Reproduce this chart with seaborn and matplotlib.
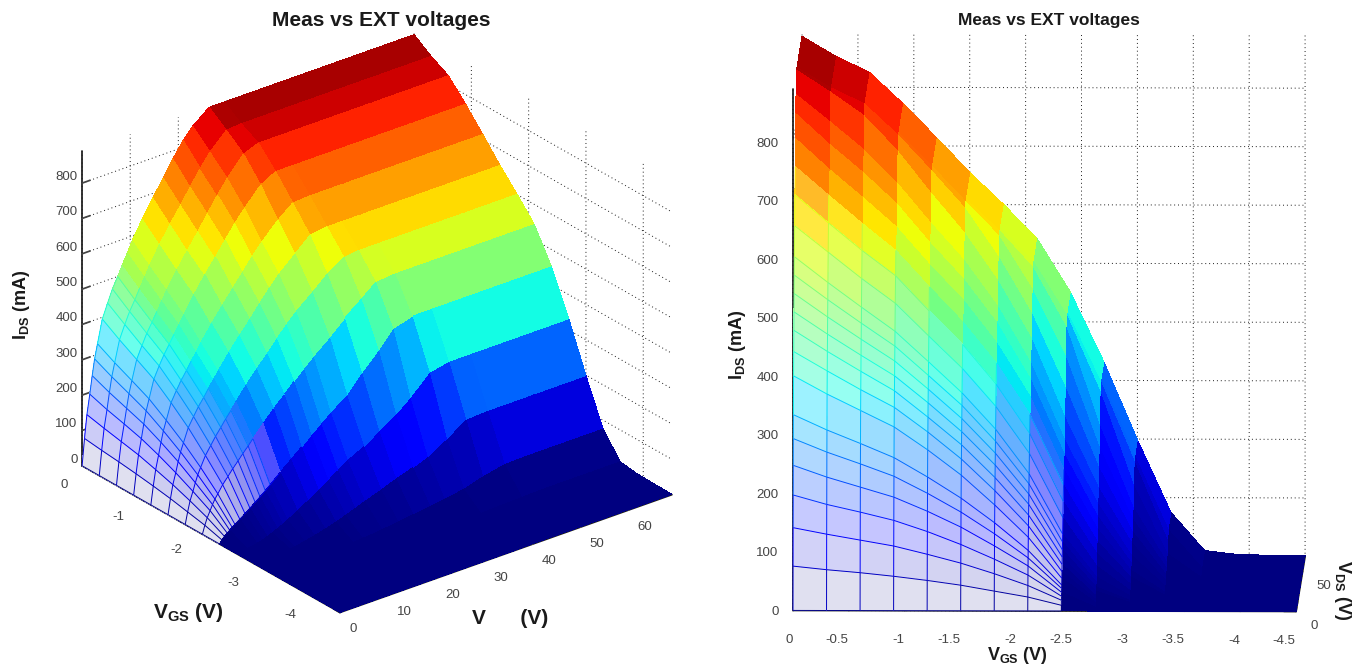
import numpy as np
import matplotlib
matplotlib.use("Agg")
import matplotlib.pyplot as plt
import seaborn as sns
from mpl_toolkits.mplot3d.art3d import Line3DCollection

# ---- data ----
vgs_levels = [0, -0.3, -0.6, -0.9, -1.2, -1.5, -1.8, -2.1, -2.4, -2.7, -3.0, -3.3, -3.6, -3.9, -4.2, -4.5]
vds_levels = [0, .5, 1, 1.6, 2.1, 2.6, 3.2, 4.2, 5.3, 6.3, 7.4, 8.4, 9.5, 10.5, 12.6, 14.8, 17, 19, 21, 23, 26.4, 29.5, 33, 36, 40, 44, 48.5, 53, 58, 63, 69]
ids_00 = [0,75,140,195,245,290,330,395,435,470,500,530,560,590,640,690,735,780,820,850,887,887,887,887,887,887,887,887,887,887,887]
ids_03 = [0,69,129,179,225,267,304,364,402,434,462,490,518,546,595,642,686,728,768,804,850,853,853,853,853,853,853,853,853,853,853]
ids_06 = [0,64,119,166,208,247,281,336,370,400,426,452,478,504,550,595,638,680,720,757,810,826,826,826,826,826,826,826,826,826,826]
ids_09 = [0,58,109,152,191,226,257,308,340,367,391,415,439,463,508,552,592,630,667,700,750,773,773,773,773,773,773,773,773,773,773]
ids_12 = [0,51,95,133,167,197,224,269,298,322,345,367,389,411,452,492,530,565,600,632,678,712,715,715,715,715,715,715,715,715,715]
ids_15 = [0,43,80,111,140,165,188,226,252,275,296,317,338,358,397,435,470,505,538,568,610,648,655,655,655,655,655,655,655,655,655]
ids_18 = [0,33,62,86,108,128,146,175,198,219,239,258,277,296,332,367,400,432,463,490,528,565,596,601,601,601,601,601,601,601,601]
ids_21 = [0,23,42,59,74,87,99,120,138,155,172,188,204,220,252,283,312,340,367,392,430,468,505,538,543,543,543,543,543,543,543]
ids_24 = [0,9,17,23,29,35,40,50,60,71,82,93,105,117,142,167,192,216,240,262,295,342,389,436,451,451,451,451,451,451,451]
ids_27 = [0,1,2,3,4,5,6,9,13,18,24,30,37,44,60,78,96,115,133,152,175,205,235,268,320,332,332,332,332,332,332]
ids_30 = [0,0,0,0,0,0,0,1,2,3,5,7,9,12,18,26,35,44,54,64,80,96,112,128,160,196,199,199,199,199,199]
ids_33 = [0,0,0,0,0,0,0,0,0,0,0,0,0,1,2,3,5,7,9,12,17,23,29,35,44,60,73,75,75,75,75]
ids_36 = [0,0,0,0,0,0,0,0,0,0,0,0,0,0,0,0,0,0,0,0,1,2,2,3,4,6,8,10,10,10,10]
ids_39 = [0,0,0,0,0,0,0,0,0,0,0,0,0,0,0,0,0,0,0,0,0,0,0,0,1,1,2,3,3,3,3]
ids_42 = [0,0,0,0,0,0,0,0,0,0,0,0,0,0,0,0,0,0,0,0,0,0,0,0,1,1,1,2,2,2,2]
ids_45 = [0,0,0,0,0,0,0,0,0,0,0,0,0,0,0,0,0,0,0,0,0,0,0,0,1,1,1,1,1,1,1]
ids_rows = [ids_00, ids_03, ids_06, ids_09, ids_12, ids_15, ids_18, ids_21,
            ids_24, ids_27, ids_30, ids_33, ids_36, ids_39, ids_42, ids_45]
z_ticks = [0, 100, 200, 300, 400, 500, 600, 700, 800]
vds_ticks_left = [0, 10, 20, 30, 40, 50, 60]
vgs_ticks_left = [0, -1, -2, -3, -4]
vds_ticks_right = [0, 50]
vgs_ticks_right = [0, -0.5, -1, -1.5, -2, -2.5, -3, -3.5, -4, -4.5]
vgs_tick_labels_right = ['0', '-0.5', '-1', '-1.5', '-2', '-2.5', '-3', '-3.5', '-4', '-4.5']
title_text = "Meas vs EXT voltages"

# ---- style ----
sns.set_theme(style="white")
plt.rcParams['font.family'] = ['Liberation Sans', 'DejaVu Sans']
plt.rcParams['mathtext.fontset'] = 'custom'
plt.rcParams['mathtext.bf'] = 'Liberation Sans:bold'
plt.rcParams['mathtext.rm'] = 'Liberation Sans'
jet = matplotlib.colormaps['jet']

W, H = 1362, 671
fig = plt.figure(figsize=(W / 100, H / 100), dpi=100, facecolor='white')

vds = np.array(vds_levels, float)
vgs = np.array(vgs_levels, float)[::-1]
ids = np.array(ids_rows, float)[::-1]
X, Y = np.meshgrid(vds, vgs)
ZMAX = ids.max()
# how far up the steep wall the mesh reads as open lines, per VGS level (0 V first)
open_wall = np.array([700, 680, 620, 560, 500, 430, 370, 300, 200, 0, 0, 0, 0, 0, 0, 0], float)[::-1]


def panel(rect_px, elev, azim, box, open_scale, xticks, yticks, ylabels, y_tick_factor):
    side = rect_px[2]
    ax = fig.add_axes([rect_px[0] / W, (H - rect_px[1]) / H, side / W, side / H],
                      projection='3d', computed_zorder=False)
    ax.patch.set_alpha(0)
    ax.set_proj_type('ortho')
    ax.view_init(elev=elev, azim=azim)
    ax.set_box_aspect(box)
    ax.set_xlim(0, 69)
    ax.set_ylim(-4.5, 0)
    ax.set_zlim(0, 890)

    rgb = jet(ids / ZMAX)
    zref = np.maximum(open_wall[:, None] * open_scale, 1e-6)
    w = 0.88 * np.clip(1 - ids / zref, 0, 1) ** 0.6
    w[open_wall == 0, :] = 0
    w[:, vds > 26] = 0
    col = rgb.copy()
    col[..., :3] = rgb[..., :3] * (1 - w[..., None]) + w[..., None]
    ax.plot_surface(X, Y, ids, facecolors=col, rstride=1, cstride=1, shade=False,
                    linewidth=0, antialiased=False, zorder=1)

    segs, cols = [], []
    nr, nc = ids.shape
    for r in range(nr):
        for c in range(nc):
            if w[r, c] <= 0:
                continue
            if r + 1 < nr:
                segs.append([(vds[c], vgs[r], ids[r, c]), (vds[c], vgs[r + 1], ids[r + 1, c])])
                cols.append(jet(ids[r + 1, c] / ZMAX * 0.8))
            if c + 1 < nc:
                segs.append([(vds[c], vgs[r], ids[r, c]), (vds[c + 1], vgs[r], ids[r, c + 1])])
                cols.append(jet(ids[r, c + 1] / ZMAX * 0.8))
    ax.add_collection3d(Line3DCollection(segs, colors=cols, linewidths=0.7, zorder=2))

    ax.set_xticks(xticks)
    ax.set_yticks(yticks)
    ax.set_yticklabels(ylabels)
    ax.set_zticks(z_ticks)
    ax.tick_params(labelsize=9.5, colors='#444444', pad=1)
    for axis in (ax.xaxis, ax.yaxis, ax.zaxis):
        axis.set_pane_color((1, 1, 1, 0))
        axis.pane.set_edgecolor('none')
        axis._axinfo['grid'].update(color='k', linewidth=0.7, linestyle=(0, (1, 3)))
        axis._axinfo['axisline']['linewidth'] = 0.9
        axis._axinfo['axisline']['color'] = 'k'
        axis._axinfo['tick']['outward_factor'] = 0.3
        axis._axinfo['tick']['inward_factor'] = 0.0
        axis.line.set_color('k')
    ax.yaxis._axinfo['tick']['outward_factor'] = y_tick_factor
    return ax


ax_l = panel((33.1, 666.9, 669.7), 26.7, -128.3, (423, 416, 352), 0.7,
             vds_ticks_left, vgs_ticks_left, [str(v) for v in vgs_ticks_left], 0.3)
ax_r = panel((608.5, 763.5, 857.9), 6.27, -178.97, (503, 503, 524), 1.0,
             vds_ticks_right, vgs_ticks_right, vgs_tick_labels_right, 3.0)

# tick label placement
ax_l.zaxis.set_tick_params(pad=-6)
for t in ax_l.get_zticklabels():
    t.set_ha('right'); t.set_va('bottom')
ax_l.yaxis.set_tick_params(pad=3)
for t in ax_l.get_yticklabels():
    t.set_ha('right'); t.set_va('center')
for t in ax_l.get_xticklabels():
    t.set_ha('left'); t.set_va('center')

for t in ax_r.get_zticklabels():
    t.set_ha('right'); t.set_va('center')
ax_r.yaxis.set_tick_params(pad=5)
for t in ax_r.get_yticklabels():
    t.set_ha('right'); t.set_va('top')
for t in ax_r.get_xticklabels():
    t.set_ha('left'); t.set_va('center')


def px(x, y, s, **kw):
    fig.text(x / W, 1 - y / H, s, ha='center', va='center', **kw)

px(381, 20, title_text, fontsize=15, fontweight='bold', color='k')
px(1049, 20, title_text, fontsize=12.5, fontweight='bold', color='k')
lab = dict(fontsize=13, fontweight='bold', color='k')
px(22, 305, r'$\mathbf{I_{DS}}$ (mA)', rotation=90, **lab)
px(188, 612, r'$\mathbf{V_{GS}}$ (V)', fontsize=15, fontweight='bold', color='k')
px(510, 619, 'V      (V)', fontsize=15, fontweight='bold', color='k')
px(737, 345, r'$\mathbf{I_{DS}}$ (mA)', rotation=90, **lab)
px(1017, 656, r'$\mathbf{V_{GS}}$ (V)', **lab)
px(1342, 590, r'$\mathbf{V_{DS}}$ (V)', rotation=-90, **lab)

fig.savefig('out.png', dpi=100)
